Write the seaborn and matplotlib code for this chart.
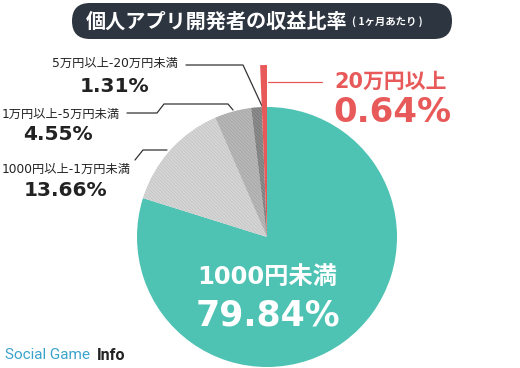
import matplotlib
matplotlib.use("Agg")
import matplotlib.pyplot as plt
import seaborn as sns
from matplotlib.patches import FancyBboxPatch

# data
categories = ["1000円未満", "1000円以上-1万円未満", "1万円以上-5万円未満",
              "5万円以上-20万円未満", "20万円以上"]
shares = [79.84, 13.66, 4.55, 1.31, 0.64]
slice_colors = ["#4ec2b3", "#d6d6d6", "#b8b8b8", "#8e8e8e", "#e85a5a"]
hatch_colors = ["#4ec2b3", "#c2c2c2", "#a4a4a4", "#747474", "#e85a5a"]
hatches = [None, "\\" * 10, "\\" * 10, "\\" * 10, None]

sns.set_theme(style="white")
plt.rcParams["font.family"] = ["DejaVu Sans", "Noto Sans CJK JP"]
plt.rcParams["hatch.linewidth"] = 0.5

W, H = 520, 368
fig = plt.figure(figsize=(W / 100, H / 100), dpi=100)
ax = fig.add_axes([0, 0, 1, 1])


def Y(y):
    # image row -> plot y
    return H - y


cx, cy, r = 267, Y(237), 130
wedges, _ = ax.pie(shares, center=(cx, cy), radius=r, startangle=90,
                   counterclock=False, colors=slice_colors,
                   wedgeprops=dict(linewidth=0))
for w, hc, h in zip(wedges, hatch_colors, hatches):
    w.set_edgecolor(hc)
    w.set_linewidth(0)
    if h:
        w.set_hatch(h)
wedges[-1].set_radius(172)
wedges[-1].set_zorder(3)

ax.set_xlim(0, W)
ax.set_ylim(0, H)
ax.set_aspect("equal")
ax.axis("off")

# title
box = FancyBboxPatch((72, Y(39)), 380, 36,
                     boxstyle="round,pad=0,rounding_size=18",
                     fc="#2d3540", ec="none")
ax.add_patch(box)
ax.text(347, Y(21), "個人アプリ開発者の収益比率", color="white",
        fontsize=14.5, fontweight="bold", ha="right", va="center",
        family=["Noto Sans CJK JP", "DejaVu Sans"])
ax.text(352, Y(22), "( 1ヶ月あたり )", color="white",
        fontsize=7.5, fontweight="bold", ha="left", va="center",
        family=["Noto Sans CJK JP", "DejaVu Sans"])

lc = "#333333"
tc = "#222222"
# 5万円以上-20万円未満
ax.text(115, Y(63), categories[3], fontsize=8.8, ha="center", va="center", color=tc)
ax.text(115, Y(86), f"{shares[3]:.2f}%", fontsize=14.5, fontweight="bold",
        ha="center", va="center", color=tc)
ax.plot([186, 243, 262], [Y(65), Y(65), Y(106)], color=lc, lw=0.9)

# 1万円以上-5万円未満
ax.text(61, Y(114), categories[2], fontsize=8.8, ha="center", va="center", color=tc)
ax.text(58, Y(135), f"{shares[2]:.2f}%", fontsize=14.5, fontweight="bold",
        ha="center", va="center", color=tc)
ax.plot([127, 157, 164, 228, 233], [Y(113), Y(113), Y(104), Y(104), Y(110)], color=lc, lw=0.9)

# 1000円以上-1万円未満
ax.text(66, Y(169), categories[1], fontsize=8.8, ha="center", va="center", color=tc)
ax.text(65, Y(190), f"{shares[1]:.2f}%", fontsize=14.5, fontweight="bold",
        ha="center", va="center", color=tc)
ax.plot([135, 143, 167], [Y(160), Y(150), Y(150)], color=lc, lw=0.9)

# 20万円以上
red = "#e85a5a"
ax.plot([268, 322], [Y(82), Y(82)], color=red, lw=0.9)
ax.text(334, Y(82), categories[4], fontsize=15, fontweight="bold",
        ha="left", va="center", color=red)
ax.text(333, Y(112), f"{shares[4]:.2f}%", fontsize=24.5, fontweight="bold",
        ha="left", va="center", color=red)

# 1000円未満
ax.text(267, Y(277), categories[0], fontsize=17.5, fontweight="bold",
        ha="center", va="center", color="white")
ax.text(268, Y(315), f"{shares[0]:.2f}%", fontsize=25, fontweight="bold",
        ha="center", va="center", color="white")

# logo
ax.text(5, Y(355), "Social Game", fontsize=11, color="#3aa3cc",
        ha="left", va="center", family=["Roboto", "DejaVu Sans"])
ax.text(97, Y(355), "Info", fontsize=11.5, color="#222222", fontweight="bold",
        ha="left", va="center", family=["Roboto", "DejaVu Sans"])

fig.savefig("out.png", dpi=100)
